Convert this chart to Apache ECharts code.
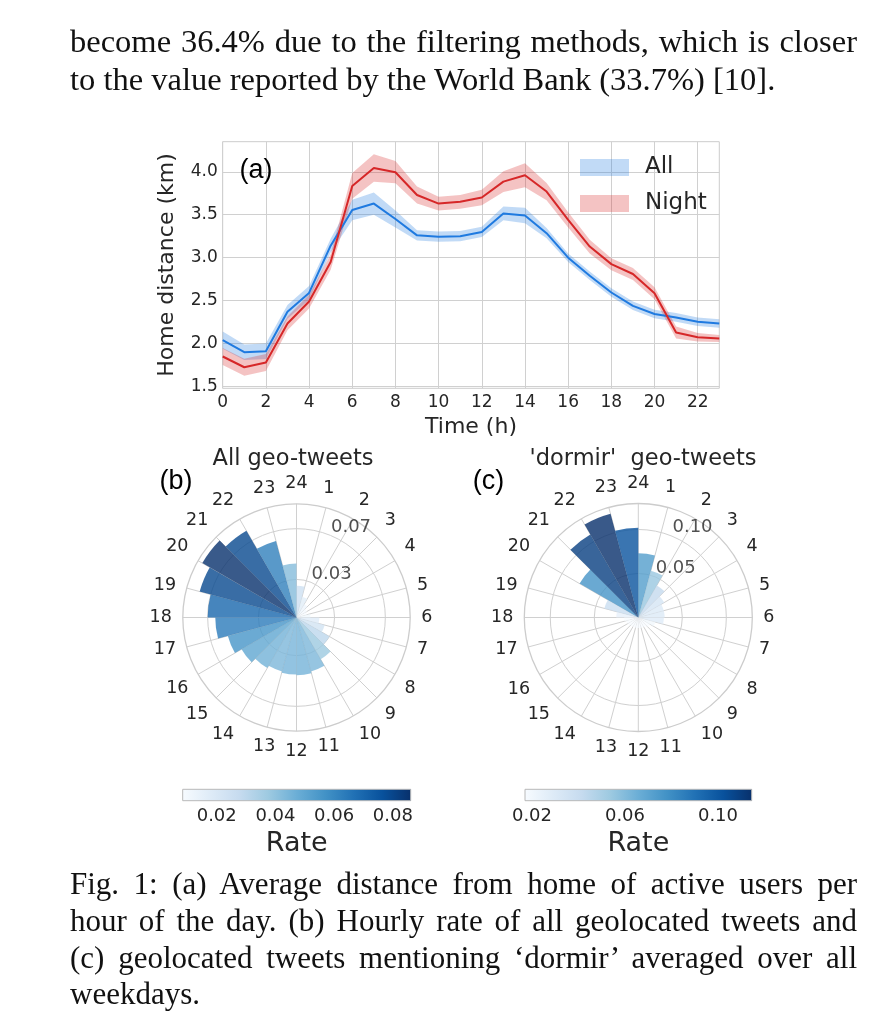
<!DOCTYPE html>
<html><head><meta charset="utf-8">
<script src="https://cdn.jsdelivr.net/npm/echarts@6/dist/echarts.min.js"></script>
<style>
html,body{margin:0;padding:0;background:#fff;}
#chart{position:absolute;left:0;top:0;width:878px;height:1024px;}
.t{position:absolute;left:70px;font-family:'Liberation Serif','Times New Roman',serif;color:#111;white-space:nowrap;}
</style></head><body>
<div id="chart"></div>
<div class="t" data-fs="32.5" data-j="1" data-base="52">become 36.4% due to the filtering methods, which is closer</div>
<div class="t" data-fs="32.5" data-base="90">to the value reported by the World Bank (33.7%) [10].</div>
<div class="t" data-fs="31" data-j="1" data-base="894">Fig. 1: (a) Average distance from home of active users per</div>
<div class="t" data-fs="31" data-j="1" data-base="931">hour of the day. (b) Hourly rate of all geolocated tweets and</div>
<div class="t" data-fs="31" data-j="1" data-base="968">(c) geolocated tweets mentioning ‘dormir’ averaged over all</div>
<div class="t" data-fs="31" data-base="1004">weekdays.</div>
<script>
// ---------- data ----------
const hours = ['0','1','2','3','4','5','6','7','8','9','10','11','12','13','14','15','16','17','18','19','20','21','22','23'];
const yTicks = [1.5,2.0,2.5,3.0,3.5,4.0];
const allMean  = [2.04,1.90,1.91,2.37,2.59,3.14,3.555,3.63,3.45,3.26,3.245,3.25,3.30,3.515,3.49,3.285,3.00,2.79,2.595,2.44,2.345,2.305,2.255,2.235];
const allLow   = [1.94,1.81,1.82,2.29,2.51,3.06,3.435,3.50,3.35,3.20,3.185,3.19,3.24,3.435,3.40,3.225,2.95,2.74,2.545,2.39,2.295,2.255,2.205,2.185];
const allHigh  = [2.14,1.99,2.00,2.45,2.67,3.22,3.675,3.76,3.55,3.32,3.305,3.31,3.36,3.595,3.58,3.345,3.05,2.84,2.645,2.49,2.395,2.355,2.305,2.285];
const nightMean= [1.85,1.725,1.78,2.235,2.49,2.95,3.835,4.045,3.995,3.73,3.63,3.65,3.70,3.885,3.96,3.77,3.44,3.13,2.925,2.81,2.585,2.13,2.075,2.06];
const nightLow = [1.75,1.625,1.68,2.155,2.41,2.86,3.685,3.885,3.865,3.63,3.55,3.57,3.61,3.765,3.82,3.67,3.35,3.05,2.855,2.74,2.515,2.06,2.025,2.02];
const nightHigh= [1.95,1.825,1.88,2.315,2.57,3.04,3.985,4.205,4.125,3.83,3.71,3.73,3.79,4.005,4.10,3.87,3.53,3.21,2.995,2.88,2.655,2.20,2.125,2.10];

const hourLabels = ['24','1','2','3','4','5','6','7','8','9','10','11','12','13','14','15','16','17','18','19','20','21','22','23','24'];
const rateAll    = [0.025,0.017,0.012,0.0095,0.0084,0.011,0.018,0.023,0.030,0.038,0.044,0.0455,0.045,0.044,0.046,0.050,0.056,0.064,0.070,0.079,0.0857,0.079,0.0625,0.0425];
const rateDormir = [0.073,0.055,0.042,0.034,0.030,0.030,0.029,0.020,0.015,0.013,0.012,0.012,0.012,0.012,0.012,0.013,0.014,0.016,0.025,0.040,0.077,0.109,0.122,0.102];
const rTicksB = [0.03,0.07], rTickLabelsB = ['0.03','0.07'], rMaxB = 0.0896;
const rTicksC = [0.05,0.10], rTickLabelsC = ['0.05','0.10'], rMaxC = 0.1295;
const cbRangeB = [0.0084,0.0861], cbTicksB = [0.02,0.04,0.06,0.08];
const cbRangeC = [0.017,0.1145],  cbTicksC = [0.02,0.06,0.10];
const BLUES = ['#f7fbff','#deebf7','#c6dbef','#9ecae1','#6baed6','#4292c6','#2171b5','#08519c','#08306b'];

// ---------- styles ----------
const FONT = 'DejaVu Sans';
const TXT = '#262626';
const GRIDC = '#d0d0d0';
const BLUE = '#1f7ae0', RED = '#d62728';

const chart = echarts.init(document.getElementById('chart'), null, {renderer:'canvas'});

function polarAxes(pi){
  return {
    angle: {polarIndex:pi, type:'value', min:0, max:24, interval:1, startAngle:90, clockwise:true,
      axisLine:{show:true, lineStyle:{color:'#cccccc', width:1.3}},
      axisTick:{show:false},
      axisLabel:{show:true, fontSize:17.5, color:TXT, fontFamily:FONT, margin:11, formatter:v=>hourLabels[v]},
      splitLine:{show:true, lineStyle:{color:GRIDC, width:1}}},
    radius: {polarIndex:pi, type:'value', min:0, max: pi===0?rMaxB:rMaxC,
      axisLine:{show:false},
      axisTick:{show:false, customValues: pi===0?rTicksB:rTicksC},
      axisLabel:{show:false, customValues: pi===0?rTicksB:rTicksC},
      splitLine:{show:true, lineStyle:{color:GRIDC, width:1}}}
  };
}
const pa0 = polarAxes(0), pa1 = polarAxes(1);

function cbGradient(){
  return new echarts.graphic.LinearGradient(0,0,1,0, BLUES.map((c,i)=>({offset:i/(BLUES.length-1), color:c})));
}
function cbRender(params, api){
  const p0 = api.coord([api.value(0), 0]);
  const p1 = api.coord([api.value(1), 1]);
  return {type:'rect', shape:{x:p0[0], y:p1[1], width:p1[0]-p0[0], height:p0[1]-p1[1]},
    style:{fill:cbGradient(), stroke:'#b8b8b8', lineWidth:1}};
}
function cbXAxis(gi, range, ticks){
  return {gridIndex:gi, type:'value', min:range[0], max:range[1],
    axisLine:{show:false}, axisTick:{show:false, customValues:ticks}, splitLine:{show:false},
    axisLabel:{customValues:ticks, formatter:v=>v.toFixed(2), fontSize:18, color:TXT, fontFamily:FONT, margin:7},
    name:'Rate', nameLocation:'middle', nameGap:30, nameTextStyle:{fontSize:27, color:TXT, fontFamily:FONT}};
}
function rLabelSeries(pi, ticks, labels){
  return {type:'scatter', coordinateSystem:'polar', polarIndex:pi, silent:true, z:10,
    symbol:'circle', symbolSize:1, itemStyle:{color:'rgba(0,0,0,0)'},
    data: ticks.map((t,i)=>({value:[t, 1.5], name:labels[i]})),
    label:{show:true, position:[0,0], align:'left', verticalAlign:'bottom', offset:[1,1],
      formatter:p=>p.name, fontSize:18, color:TXT, fontFamily:FONT}};
}
function bandBase(stack, arr){
  return {type:'line', xAxisIndex:0, yAxisIndex:0, stack:stack, silent:true, symbol:'none',
    lineStyle:{opacity:0}, data: arr};
}
function bandFill(name, stack, lo, hi, color){
  return {name:name, type:'line', xAxisIndex:0, yAxisIndex:0, stack:stack, silent:true, symbol:'none',
    lineStyle:{opacity:0}, areaStyle:{color:color, opacity:1},
    data: hi.map((v,i)=>v - lo[i])};
}

const ALL_FILL = 'rgba(31,122,224,0.28)', NIGHT_FILL = 'rgba(214,39,40,0.28)';

const option = {
  animation:false,
  backgroundColor:'#fff',
  grid:[
    {left:222.7, top:141.7, width:496.6, height:246.6, show:true, borderColor:'#cccccc', borderWidth:1, backgroundColor:'#fff'},
    {left:182.7, top:789.3, width:228, height:11.4},
    {left:525, top:789.3, width:226.7, height:11.4}
  ],
  xAxis:[
    {gridIndex:0, type:'category', data:hours, boundaryGap:false,
      axisLine:{show:false}, axisTick:{show:false},
      axisLabel:{interval:1, fontSize:17, color:TXT, fontFamily:FONT, margin:6},
      splitLine:{show:true, interval:1, lineStyle:{color:GRIDC, width:1}},
      name:'Time (h)', nameLocation:'middle', nameGap:28, nameTextStyle:{fontSize:22, color:TXT, fontFamily:FONT}},
    cbXAxis(1, cbRangeB, cbTicksB),
    cbXAxis(2, cbRangeC, cbTicksC)
  ],
  yAxis:[
    {gridIndex:0, type:'value', min:1.48, max:4.35,
      axisLine:{show:false}, axisTick:{show:false, customValues:yTicks},
      axisLabel:{customValues:yTicks, formatter:v=>v.toFixed(1), fontSize:17, color:TXT, fontFamily:FONT, margin:5},
      splitLine:{show:true, lineStyle:{color:GRIDC, width:1}},
      name:'Home distance (km)', nameLocation:'middle', nameGap:44, nameRotate:90, nameTextStyle:{fontSize:22, color:TXT, fontFamily:FONT}},
    {gridIndex:1, type:'value', min:0, max:1, show:false},
    {gridIndex:2, type:'value', min:0, max:1, show:false}
  ],
  polar:[
    {center:[296.5,617.5], radius:113.7},
    {center:[638.3,617.5], radius:114}
  ],
  angleAxis:[pa0.angle, pa1.angle],
  radiusAxis:[pa0.radius, pa1.radius],
  legend:{left:575, top:150.5, orient:'vertical', icon:'rect', itemWidth:49, itemHeight:17, itemGap:12,
    selectedMode:false,
    textStyle:{fontSize:23, lineHeight:24, color:TXT, fontFamily:FONT, padding:[0,0,0,11]},
    data:[{name:'All', itemStyle:{color:ALL_FILL, borderWidth:0}},
          {name:'Night', itemStyle:{color:NIGHT_FILL, borderWidth:0}}]},
  visualMap:[
    {type:'continuous', show:false, seriesIndex:6, dimension:0, min:cbRangeB[0], max:cbRangeB[1], inRange:{color:BLUES}},
    {type:'continuous', show:false, seriesIndex:7, dimension:0, min:cbRangeC[0], max:cbRangeC[1], inRange:{color:BLUES}}
  ],
  series:[
    bandBase('allBand', allLow),
    bandFill('All', 'allBand', allLow, allHigh, ALL_FILL),
    bandBase('nightBand', nightLow),
    bandFill('Night', 'nightBand', nightLow, nightHigh, NIGHT_FILL),
    {name:'All mean', type:'line', xAxisIndex:0, yAxisIndex:0, silent:true, symbol:'none',
      lineStyle:{color:BLUE, width:2}, data: allMean},
    {name:'Night mean', type:'line', xAxisIndex:0, yAxisIndex:0, silent:true, symbol:'none',
      lineStyle:{color:RED, width:2}, data: nightMean},
    {name:'All geo-tweets', type:'bar', coordinateSystem:'polar', polarIndex:0, silent:true, barWidth:'100%',
      itemStyle:{opacity:0.8}, data: hours.map((h,i)=>[rateAll[i], i+0.5])},
    {name:'dormir geo-tweets', type:'bar', coordinateSystem:'polar', polarIndex:1, silent:true, barWidth:'100%',
      itemStyle:{opacity:0.8}, data: hours.map((h,i)=>[rateDormir[i], i+0.5])},
    rLabelSeries(0, rTicksB, rTickLabelsB),
    rLabelSeries(1, rTicksC, rTickLabelsC),
    {type:'custom', xAxisIndex:1, yAxisIndex:1, silent:true, renderItem:cbRender, data:[[cbRangeB[0], cbRangeB[1]]]},
    {type:'custom', xAxisIndex:2, yAxisIndex:2, silent:true, renderItem:cbRender, data:[[cbRangeC[0], cbRangeC[1]]]}
  ],
  graphic:[
    {type:'text', x:256, y:171, z:100, style:{text:'(a)', font:'27px "Liberation Sans", Arial, sans-serif', fill:'#000', align:'center', verticalAlign:'middle'}},
    {type:'text', x:176, y:482, z:100, style:{text:'(b)', font:'27px "Liberation Sans", Arial, sans-serif', fill:'#000', align:'center', verticalAlign:'middle'}},
    {type:'text', x:488.5, y:482, z:100, style:{text:'(c)', font:'27px "Liberation Sans", Arial, sans-serif', fill:'#000', align:'center', verticalAlign:'middle'}},
    {type:'text', x:293, y:459, z:100, style:{text:'All geo-tweets', font:'22.5px "DejaVu Sans"', fill:TXT, align:'center', verticalAlign:'middle'}},
    {type:'text', x:643, y:459, z:100, style:{text:"'dormir'  geo-tweets", font:'22.5px "DejaVu Sans"', fill:TXT, align:'center', verticalAlign:'middle'}}
  ]
};
chart.setOption(option);

// ---------- paragraph text placement / justification ----------
const LINE_W = 787;
document.querySelectorAll('.t').forEach(el=>{
  const fs = parseFloat(el.dataset.fs);
  el.style.fontSize = fs + 'px';
  el.style.lineHeight = fs + 'px';
  const base = parseFloat(el.dataset.base);
  el.style.top = (base - 0.891*fs + (1.107*fs - fs)/2) + 'px';
  if (el.dataset.j){
    const w = el.getBoundingClientRect().width;
    const n = (el.textContent.match(/ /g)||[]).length;
    el.style.wordSpacing = ((LINE_W - w)/n) + 'px';
  }
});
</script>
</body></html>
